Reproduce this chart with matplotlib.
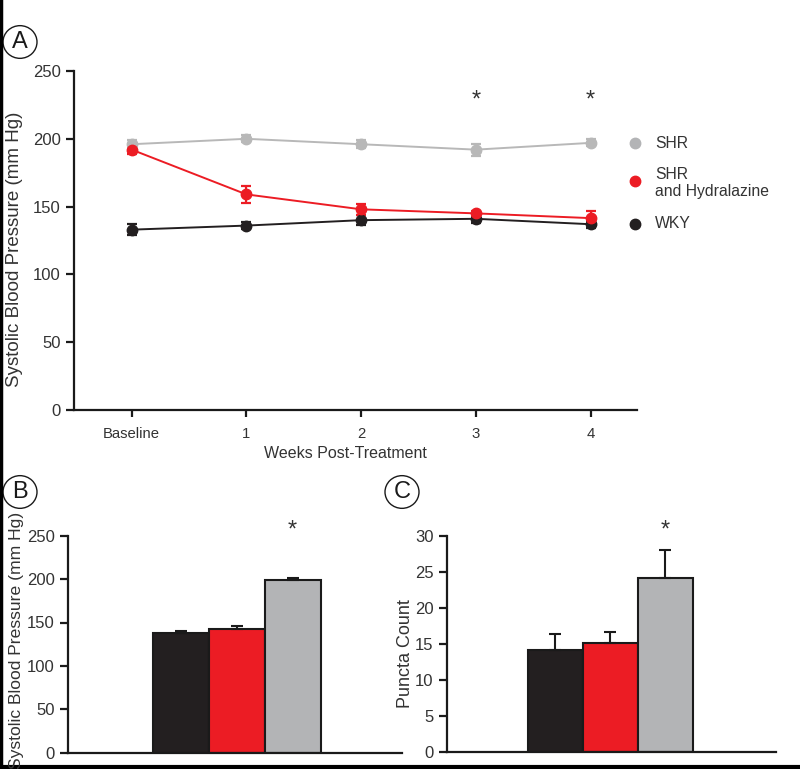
import matplotlib
matplotlib.use("Agg")
import matplotlib.pyplot as plt
from matplotlib.patches import Circle
from matplotlib.lines import Line2D

plt.rcParams['font.family'] = ['Liberation Sans', 'DejaVu Sans']

# ---- Data ----
weeks = ["Baseline", "1", "2", "3", "4"]
shr = [196, 200, 196, 192, 197]
shr_err = [3, 2.5, 3, 4.5, 2.5]
shr_h = [192, 159, 148, 145, 141.5]
shr_h_err = [3, 6, 4, 2, 5]
wky = [133, 136, 140, 141, 137]
wky_err = [4, 2.5, 3.5, 3, 2.5]
sig_weeks = [3, 4]

groups = ["WKY", "SHR and Hydralazine", "SHR"]
bp_vals = [138, 142.5, 198.5]
bp_err = [2, 4, 3]
puncta_vals = [14.1, 15.1, 24.1]
puncta_err = [2.3, 1.5, 3.9]

C_GRAY = "#b3b4b6"
C_RED = "#ec1c24"
C_BLACK = "#231f20"
C_LINEGRAY = "#b8b8b8"
TXT = "#333333"

W, H = 800, 769
fig = plt.figure(figsize=(8, 7.69), dpi=100)

def ax_rect(l, r, b, t):
    return [l / W, 1 - b / H, (r - l) / W, (b - t) / H]

def style(ax):
    for s in ["top", "right"]:
        ax.spines[s].set_visible(False)
    for s in ["left", "bottom"]:
        ax.spines[s].set_linewidth(1.6)
        ax.spines[s].set_color("#1a1a1a")
    ax.tick_params(axis="both", colors="#1a1a1a", labelcolor=TXT, labelsize=12,
                   width=1.6, length=6, direction="out")

# ---- Panel A ----
axA = fig.add_axes(ax_rect(74, 637, 410, 71))
style(axA)
xs = list(range(len(weeks)))
for vals, errs, col in [(shr, shr_err, C_LINEGRAY),
                        (wky, wky_err, C_BLACK),
                        (shr_h, shr_h_err, C_RED)]:
    axA.errorbar(xs, vals, yerr=errs, color=col, marker="o", markersize=7.5,
                 markerfacecolor=col, markeredgecolor=col, linewidth=1.4,
                 elinewidth=1.6, capsize=3.5, capthick=1.6, clip_on=False)
axA.set_xlim(-0.503, 4.405)
axA.set_ylim(0, 250)
axA.set_yticks([0, 50, 100, 150, 200, 250])
axA.set_xticks(xs)
axA.set_xticklabels(weeks)
axA.tick_params(axis="x", length=5, pad=7, labelsize=10.7)
fig.text(345.5 / W, 1 - 454 / H, "Weeks Post-Treatment", ha="center", va="center",
         fontsize=11.5, color=TXT)
for w in sig_weeks:
    axA.text(w, 228, "*", ha="center", va="center", fontsize=17, color=TXT)

# legend (figure coords)
leg_items = [("SHR", C_GRAY, 143, 143), ("SHR\nand Hydralazine", C_RED, 181, 183),
             ("WKY", C_BLACK, 224, 224)]
for lab, col, my, ty in leg_items:
    fig.add_artist(Line2D([635 / W], [1 - my / H], marker="o", markersize=7.5,
                          color=col, linestyle="none"))
    fig.text(655 / W, 1 - ty / H, lab, ha="left", va="center", fontsize=11.3,
             color=TXT, linespacing=1.2)

fig.text(15 / W, 1 - 249 / H, "Systolic Blood Pressure (mm Hg)", rotation=90,
         ha="center", va="center", fontsize=13.5, color=TXT)

# ---- Panel B ----
axB = fig.add_axes(ax_rect(68, 402, 752.7, 535.7))
style(axB)
bar_cols = [C_BLACK, C_RED, C_GRAY]
bx = list(range(len(groups)))
axB.bar(bx, bp_vals, width=1.0, color=bar_cols, edgecolor="#1a1a1a", linewidth=1.5)
axB.errorbar(bx, bp_vals, yerr=[[0] * 3, bp_err], fmt="none", ecolor="#1a1a1a",
             elinewidth=1.5, capsize=4, capthick=1.5)
axB.set_xlim(-2.01, 3.955)
axB.set_ylim(0, 250)
axB.set_yticks([0, 50, 100, 150, 200, 250])
axB.set_xticks([])
axB.text(2, 256, "*", ha="center", va="center", fontsize=17, color=TXT)
fig.text(17 / W, 1 - 640 / H, "Systolic Blood Pressure (mm Hg)", rotation=90,
         ha="center", va="center", fontsize=12.6, color=TXT)

# ---- Panel C ----
axC = fig.add_axes(ax_rect(446.7, 776, 752.3, 535.7))
style(axC)
axC.bar(bx, puncta_vals, width=1.0, color=bar_cols, edgecolor="#1a1a1a", linewidth=1.5)
axC.errorbar(bx, puncta_vals, yerr=[[0] * 3, puncta_err], fmt="none", ecolor="#1a1a1a",
             elinewidth=1.5, capsize=4, capthick=1.5)
axC.set_xlim(-1.97, 4.01)
axC.set_ylim(0, 30)
axC.set_yticks([0, 5, 10, 15, 20, 25, 30])
axC.set_xticks([])
axC.text(2, 30.7, "*", ha="center", va="center", fontsize=17, color=TXT)
fig.text(405 / W, 1 - 654 / H, "Puncta Count", rotation=90,
         ha="center", va="center", fontsize=13, color=TXT)

# ---- Panel letters ----
for lab, cx, cy in [("A", 20, 42), ("B", 20, 492), ("C", 402, 492)]:
    fig.add_artist(Circle((cx / W, 1 - cy / H), 17 / W, transform=fig.transFigure,
                          fill=False, edgecolor="#1a1a1a", linewidth=1.0))
    fig.text(cx / W, 1 - cy / H, lab, ha="center", va="center", fontsize=17, color="#1a1a1a")

# ---- Border lines ----
fig.add_artist(Line2D([1 / W, 1 / W], [0, 1], color="black", linewidth=2.5,
                      transform=fig.transFigure))
fig.add_artist(Line2D([0, 1], [2 / H, 2 / H], color="black", linewidth=3,
                      transform=fig.transFigure))

fig.savefig("out.png", dpi=100)
